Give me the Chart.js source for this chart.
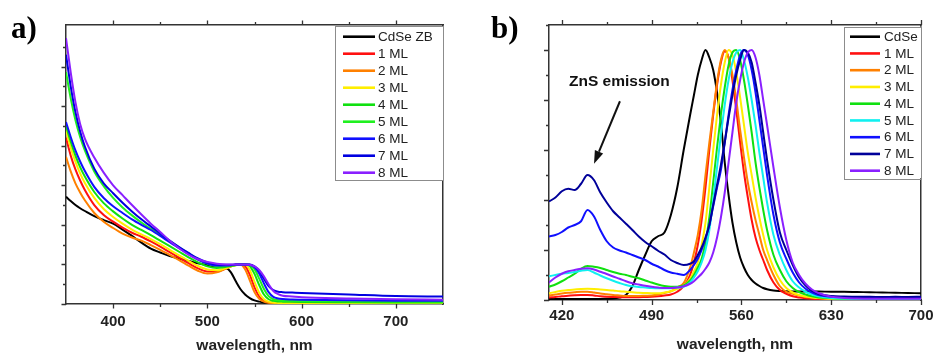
<!DOCTYPE html>
<html><head><meta charset="utf-8">
<script src="https://cdn.jsdelivr.net/npm/chart.js@4.4.1/dist/chart.umd.min.js"></script>
<style>
html,body{margin:0;padding:0;background:#fff;}
#wrap{position:relative;width:934px;height:356px;overflow:hidden;background:#fff;}
.panel{position:absolute;top:0;width:467px;height:356px;}
.lab{position:absolute;font-family:"Liberation Serif","Times New Roman",serif;font-weight:bold;font-size:31px;line-height:1;color:#000;}
</style></head><body>
<div id="wrap">
<div class="panel" style="left:0"><canvas id="ca" width="467" height="356"></canvas></div>
<div class="panel" style="left:467px"><canvas id="cb" width="467" height="356"></canvas></div>
<div class="lab" style="left:11px;top:12px">a)</div>
<div class="lab" style="left:491px;top:12px">b)</div>
</div>
<script>
// ---------- Panel a: absorption ----------
const wlA = [350,355,360,365,370,380,390,400,410,420,430,440,450,460,470,480,490,500,510,520,525,530,535,540,545,550,555,560,565,570,575,580,590,600,650,700,750];
const absCdSeZB = [2.71,2.6,2.5,2.42,2.35,2.22,2.12,2.03,1.88,1.72,1.55,1.4,1.3,1.21,1.15,1.09,1.03,0.98,0.94,0.91,0.8,0.58,0.38,0.24,0.15,0.09,0.06,0.04,0.03,0.03,0.025,0.025,0.02,0.02,0.02,0.02,0.02];
const abs1ML = [4.2,3.75,3.4,3.12,2.88,2.5,2.25,2.08,1.93,1.8,1.7,1.58,1.45,1.31,1.17,1.03,0.9,0.82,0.82,0.9,0.95,0.99,1.0,0.96,0.74,0.42,0.19,0.08,0.04,0.025,0.02,0.018,0.015,0.013,0.012,0.01,0.01];
const abs2ML = [3.72,3.35,3.05,2.82,2.62,2.3,2.08,1.92,1.78,1.68,1.6,1.49,1.37,1.24,1.11,0.97,0.84,0.77,0.8,0.9,0.95,0.99,1.0,0.88,0.6,0.3,0.13,0.06,0.03,0.02,0.015,0.015,0.012,0.01,0.01,0.01,0.01];
const abs3ML = [4.4,3.95,3.6,3.3,3.06,2.68,2.4,2.2,2.03,1.88,1.76,1.64,1.51,1.37,1.23,1.09,0.96,0.87,0.85,0.91,0.95,0.98,1.0,1.0,0.86,0.56,0.28,0.12,0.06,0.035,0.028,0.025,0.022,0.02,0.018,0.016,0.015];
const abs4ML = [4.5,4.1,3.75,3.46,3.22,2.83,2.55,2.34,2.16,2.0,1.87,1.74,1.6,1.46,1.32,1.18,1.05,0.95,0.91,0.94,0.96,0.98,1.0,1.0,0.96,0.76,0.48,0.24,0.12,0.08,0.065,0.06,0.055,0.052,0.045,0.04,0.038];
const abs5ML = [5.86,5.2,4.65,4.22,3.88,3.35,2.98,2.68,2.44,2.24,2.06,1.9,1.75,1.59,1.43,1.28,1.13,1.02,0.96,0.97,0.98,0.99,1.0,1.0,0.99,0.88,0.64,0.38,0.2,0.12,0.095,0.085,0.08,0.078,0.07,0.062,0.058];
const abs6ML = [4.6,4.22,3.88,3.6,3.36,2.96,2.68,2.47,2.3,2.14,2.0,1.87,1.72,1.56,1.41,1.26,1.12,1.02,0.97,0.97,0.98,1.0,1.0,1.0,0.99,0.93,0.77,0.52,0.3,0.18,0.14,0.125,0.115,0.11,0.095,0.085,0.08];
const abs7ML = [6.3,5.5,4.85,4.36,3.98,3.42,3.05,2.8,2.56,2.34,2.14,1.96,1.78,1.6,1.44,1.29,1.15,1.05,1.0,0.99,0.99,1.0,1.0,1.0,1.0,0.95,0.84,0.64,0.45,0.35,0.31,0.3,0.29,0.28,0.24,0.2,0.19];
const abs8ML = [6.72,5.85,5.1,4.55,4.18,3.7,3.32,3.0,2.75,2.5,2.26,2.03,1.82,1.6,1.41,1.25,1.13,1.06,1.02,1.0,1.0,1.0,1.0,1.0,0.99,0.95,0.86,0.7,0.5,0.33,0.25,0.21,0.19,0.17,0.14,0.12,0.11];
const legendA = ['CdSe ZB','1 ML','2 ML','3 ML','4 ML','5 ML','6 ML','7 ML','8 ML'];
const colorsA = ['#000000','#ff1010','#ff8000','#ffee00','#10e010','#20f020','#1010ff','#0000e0','#8a20ff'];
const xMajorA = [400,500,600,700];
const xMinorA = [450,550,650];
const yMajorA = [0,1,2,3,4,5,6];
const yMinorA = [0.5,1.5,2.5,3.5,4.5,5.5,6.5];

// ---------- Panel b: photoluminescence ----------
const wlB = [410,415,420,425,430,435,440,445,450,455,460,465,470,475,480,485,490,495,500,505,510,515,520,523,526,529,532,535,538,541,544,547,550,553,556,559,562,565,568,571,574,577,580,585,590,595,600,605,610,615,620,630,640,650,660,670,680,690,700];
const plCdSe = [0.004,0.004,0.004,0.004,0.004,0.004,0.004,0.004,0.004,0.005,0.006,0.01,0.02,0.055,0.12,0.18,0.235,0.255,0.27,0.34,0.45,0.6,0.74,0.82,0.9,0.96,1.0,0.97,0.92,0.83,0.71,0.55,0.42,0.31,0.23,0.17,0.13,0.1,0.08,0.066,0.056,0.048,0.043,0.038,0.036,0.035,0.034,0.034,0.034,0.034,0.034,0.033,0.033,0.032,0.031,0.03,0.029,0.028,0.027];
const pl1ML = [0.01,0.012,0.015,0.017,0.019,0.02,0.02,0.018,0.015,0.013,0.012,0.011,0.011,0.011,0.011,0.012,0.013,0.015,0.018,0.022,0.033,0.055,0.1,0.15,0.22,0.32,0.45,0.6,0.74,0.86,0.95,0.995,0.97,0.88,0.76,0.63,0.51,0.41,0.32,0.25,0.2,0.16,0.12,0.07,0.04,0.025,0.015,0.01,0.007,0.005,0.004,0.003,0.003,0.002,0.002,0.002,0.002,0.002,0.002];
const pl2ML = [0.018,0.022,0.026,0.029,0.031,0.033,0.033,0.03,0.026,0.023,0.02,0.018,0.016,0.016,0.016,0.017,0.018,0.022,0.028,0.035,0.05,0.068,0.13,0.19,0.26,0.36,0.5,0.63,0.75,0.87,0.96,1.0,0.97,0.9,0.8,0.68,0.57,0.47,0.39,0.32,0.26,0.2,0.16,0.1,0.055,0.033,0.025,0.018,0.012,0.01,0.008,0.005,0.004,0.003,0.003,0.003,0.003,0.003,0.003];
const pl3ML = [0.027,0.032,0.037,0.04,0.042,0.044,0.045,0.044,0.042,0.04,0.038,0.035,0.033,0.031,0.029,0.028,0.027,0.027,0.03,0.035,0.045,0.058,0.085,0.115,0.15,0.22,0.31,0.45,0.6,0.74,0.86,0.95,1.0,0.98,0.91,0.81,0.7,0.59,0.5,0.41,0.33,0.26,0.2,0.13,0.08,0.048,0.03,0.02,0.014,0.01,0.008,0.005,0.004,0.004,0.003,0.003,0.003,0.003,0.003];
const pl4ML = [0.053,0.062,0.075,0.09,0.105,0.125,0.136,0.133,0.128,0.12,0.112,0.105,0.1,0.093,0.087,0.078,0.07,0.062,0.056,0.053,0.053,0.058,0.078,0.1,0.13,0.165,0.23,0.33,0.47,0.61,0.74,0.85,0.94,0.99,1.0,0.96,0.88,0.78,0.67,0.55,0.45,0.36,0.28,0.18,0.12,0.075,0.048,0.032,0.022,0.015,0.01,0.007,0.005,0.005,0.004,0.004,0.004,0.004,0.004];
const pl5ML = [0.095,0.1,0.105,0.108,0.112,0.117,0.12,0.11,0.098,0.087,0.077,0.068,0.06,0.055,0.052,0.05,0.048,0.047,0.047,0.047,0.05,0.053,0.07,0.09,0.115,0.15,0.2,0.28,0.4,0.53,0.66,0.78,0.88,0.95,0.99,1.0,0.96,0.89,0.8,0.7,0.59,0.49,0.39,0.26,0.18,0.12,0.075,0.05,0.033,0.022,0.015,0.008,0.006,0.005,0.005,0.005,0.005,0.005,0.005];
const pl6ML = [0.254,0.26,0.272,0.29,0.3,0.315,0.36,0.335,0.28,0.235,0.21,0.198,0.19,0.18,0.17,0.16,0.145,0.134,0.12,0.11,0.105,0.1,0.12,0.14,0.165,0.2,0.245,0.3,0.375,0.45,0.52,0.63,0.74,0.84,0.92,0.98,1.0,0.98,0.92,0.83,0.72,0.61,0.5,0.34,0.23,0.165,0.11,0.07,0.045,0.03,0.02,0.013,0.012,0.012,0.012,0.011,0.012,0.011,0.012];
const pl7ML = [0.394,0.41,0.435,0.445,0.44,0.465,0.5,0.48,0.43,0.39,0.355,0.33,0.305,0.28,0.254,0.232,0.215,0.197,0.182,0.16,0.148,0.14,0.145,0.155,0.18,0.21,0.25,0.3,0.38,0.46,0.54,0.63,0.73,0.82,0.9,0.96,1.0,0.99,0.95,0.87,0.78,0.67,0.56,0.4,0.27,0.2,0.14,0.09,0.058,0.037,0.025,0.016,0.014,0.013,0.013,0.012,0.013,0.012,0.013];
const pl8ML = [0.07,0.09,0.105,0.115,0.12,0.125,0.127,0.122,0.113,0.104,0.094,0.085,0.075,0.067,0.062,0.057,0.053,0.05,0.048,0.048,0.05,0.055,0.065,0.075,0.09,0.105,0.125,0.15,0.19,0.25,0.33,0.43,0.55,0.67,0.79,0.88,0.95,0.99,1.0,0.97,0.9,0.8,0.7,0.53,0.37,0.24,0.15,0.1,0.065,0.042,0.028,0.013,0.008,0.006,0.005,0.005,0.005,0.005,0.005];
const legendB = ['CdSe','1 ML','2 ML','3 ML','4 ML','5 ML','6 ML','7 ML','8 ML'];
const colorsB = ['#000000','#ff1010','#ff8000','#ffee00','#10e010','#10f0f0','#1010ff','#00009a','#8a20ff'];
const xMajorB = [420,490,560,630,700];
const xMinorB = [455,525,595,665];
const yMajorB = [0,0.2,0.4,0.6,0.8,1.0];
const yMinorB = [0.1,0.3,0.5,0.7,0.9,1.1];
const noteB = {text:'ZnS emission', x:425.6, y:0.872, arrowFrom:[465.3,0.795], arrowTo:[445.1,0.545]};

// ---------- shared drawing ----------
const FONT = "'Liberation Sans', Arial, Helvetica, sans-serif";
const AX = '#333333';

function makeDatasets(wl, series, labels, colors){
  return series.map((vals,i)=>({
    label: labels[i],
    data: wl.map((w,k)=>({x:w, y:vals[k]})),
    borderColor: colors[i], backgroundColor: colors[i],
    borderWidth: 2, pointRadius: 0, fill: false,
    cubicInterpolationMode: 'monotone', order: -i
  }));
}

const frameTicks = {
  id:'frameTicks',
  afterDraw(chart, args, o){
    const {ctx, chartArea:ca, scales} = chart;
    ctx.save();
    ctx.strokeStyle = AX; ctx.lineWidth = 1.3;
    const X = v => Math.round(scales.x.getPixelForValue(v)) + 0.5;
    const Y = v => Math.round(scales.y.getPixelForValue(v)) + 0.5;
    ctx.beginPath();
    o.xMajor.forEach(v=>{const p=X(v); ctx.moveTo(p,ca.bottom); ctx.lineTo(p,ca.bottom+o.major); ctx.moveTo(p,ca.top); ctx.lineTo(p,ca.top-o.major);});
    o.xMinor.forEach(v=>{const p=X(v); ctx.moveTo(p,ca.bottom); ctx.lineTo(p,ca.bottom+o.minor); ctx.moveTo(p,ca.top); ctx.lineTo(p,ca.top-o.minor);});
    o.yMajor.forEach(v=>{const p=Y(v); ctx.moveTo(ca.left,p); ctx.lineTo(ca.left-o.major,p);});
    o.yMinor.forEach(v=>{const p=Y(v); ctx.moveTo(ca.left,p); ctx.lineTo(ca.left-o.minor,p);});
    ctx.stroke();
    ctx.restore();
  }
};

const boxLegend = {
  id:'boxLegend',
  afterDraw(chart, args, o){
    const {ctx, chartArea:ca} = chart;
    const ds = chart.data.datasets;
    const right = ca.right, left = right - o.width, top = ca.top + o.top;
    const h = o.height;
    ctx.save();
    ctx.fillStyle = '#fff';
    ctx.fillRect(left, top, o.width, h);
    ctx.strokeStyle = '#8c8c8c'; ctx.lineWidth = 1;
    ctx.strokeRect(Math.round(left)+0.5, Math.round(top)+0.5, Math.round(o.width), Math.round(h));
    ctx.font = o.fontSize + 'px ' + FONT;
    ctx.textBaseline = 'middle'; ctx.textAlign = 'left';
    ds.forEach((d,i)=>{
      const y = top + o.first + i*o.rowH;
      ctx.strokeStyle = d.borderColor; ctx.lineWidth = 2.6;
      ctx.beginPath(); ctx.moveTo(left+o.lineX0, y); ctx.lineTo(left+o.lineX1, y); ctx.stroke();
      ctx.fillStyle = '#222';
      ctx.fillText(d.label, left+o.textX, y+0.5);
    });
    ctx.restore();
  }
};

const note = {
  id:'note',
  afterDraw(chart, args, o){
    if(!o || !o.text) return;
    const {ctx, scales} = chart;
    const px = v => scales.x.getPixelForValue(v), py = v => scales.y.getPixelForValue(v);
    ctx.save();
    ctx.fillStyle = '#111';
    ctx.font = 'bold 15.5px ' + FONT;
    ctx.textBaseline = 'middle'; ctx.textAlign = 'left';
    ctx.fillText(o.text, px(o.x), py(o.y));
    const x0 = px(o.arrowFrom[0]), y0 = py(o.arrowFrom[1]);
    const x1 = px(o.arrowTo[0]), y1 = py(o.arrowTo[1]);
    const ang = Math.atan2(y1-y0, x1-x0), L = 13, W = 4.5;
    const bx = x1 - L*Math.cos(ang), by = y1 - L*Math.sin(ang);
    ctx.strokeStyle = '#111'; ctx.lineWidth = 2;
    ctx.beginPath(); ctx.moveTo(x0,y0); ctx.lineTo(bx,by); ctx.stroke();
    ctx.beginPath();
    ctx.moveTo(x1,y1);
    ctx.lineTo(bx + W*Math.sin(ang), by - W*Math.cos(ang));
    ctx.lineTo(bx - W*Math.sin(ang), by + W*Math.cos(ang));
    ctx.closePath(); ctx.fill();
    ctx.restore();
  }
};

function makeChart(id, cfg){
  const border = {display:true, color:AX, width:1.5};
  const hiddenGrid = {display:false, drawTicks:false};
  const noPad = ax => { ax.paddingLeft = 0; ax.paddingRight = 0; ax.paddingTop = 0; ax.paddingBottom = 0; };
  return new Chart(document.getElementById(id), {
    type:'line',
    data:{datasets: makeDatasets(cfg.wl, cfg.series, cfg.labels, cfg.colors)},
    plugins:[frameTicks, boxLegend, note],
    options:{
      responsive:false, animation:false, devicePixelRatio:1,
      layout:{padding:0},
      plugins:{
        legend:{display:false}, tooltip:{enabled:false},
        frameTicks:{xMajor:cfg.xMajor, xMinor:cfg.xMinor, yMajor:cfg.yMajor, yMinor:cfg.yMinor, major:cfg.majorLen, minor:3},
        boxLegend:cfg.legend,
        note:cfg.note || {}
      },
      scales:{
        x:{type:'linear', position:'bottom', min:cfg.xmin, max:cfg.xmax,
           afterBuildTicks: ax => { ax.ticks = cfg.xMajor.map(v=>({value:v})); },
           afterFit: ax => { ax.height = cfg.bottomH; noPad(ax); },
           grid:hiddenGrid, border,
           ticks:{color:'#222', font:{family:FONT, size:15, weight:'bold'}, padding:cfg.tickPad, maxRotation:0, autoSkip:false},
           title:{display:true, text:'wavelength, nm', color:'#222', font:{family:FONT, size:15.5, weight:'bold'}, padding:{top:0, bottom:cfg.titleBottom}}},
        x2:{type:'linear', position:'top', min:cfg.xmin, max:cfg.xmax,
           afterFit: ax => { ax.height = cfg.topH; noPad(ax); },
           grid:hiddenGrid, border, ticks:{display:false}},
        y:{type:'linear', position:'left', min:0, max:cfg.ymax,
           afterFit: ax => { ax.width = cfg.leftW; noPad(ax); },
           grid:hiddenGrid, border, ticks:{display:false}},
        y2:{type:'linear', position:'right', min:0, max:cfg.ymax,
           afterFit: ax => { ax.width = cfg.rightW; noPad(ax); },
           grid:hiddenGrid, border, ticks:{display:false}}
      }
    }
  });
}

makeChart('ca', {
  wl:wlA, series:[absCdSeZB,abs1ML,abs2ML,abs3ML,abs4ML,abs5ML,abs6ML,abs7ML,abs8ML],
  labels:legendA, colors:colorsA,
  xmin:350, xmax:750, ymax:7.05,
  xMajor:xMajorA, xMinor:xMinorA, yMajor:yMajorA, yMinor:yMinorA, majorLen:4.5,
  leftW:66, rightW:24, topH:25, bottomH:52, tickPad:9, titleBottom:1,
  legend:{width:108, height:154, top:1, rowH:17, first:10.7, lineX0:8, lineX1:40, textX:43, fontSize:13.5}
});

makeChart('cb', {
  wl:wlB, series:[plCdSe,pl1ML,pl2ML,pl3ML,pl4ML,pl5ML,pl6ML,pl7ML,pl8ML],
  labels:legendB, colors:colorsB,
  xmin:410, xmax:700, ymax:1.1,
  xMajor:xMajorB, xMinor:xMinorB, yMajor:yMajorB, yMinor:yMinorB, majorLen:5,
  leftW:82, rightW:13, topH:25, bottomH:56, tickPad:7, titleBottom:2,
  legend:{width:77, height:151.6, top:1.7, rowH:16.75, first:10, lineX0:6, lineX1:36, textX:40, fontSize:13.5},
  note:noteB
});
</script>
</body></html>
